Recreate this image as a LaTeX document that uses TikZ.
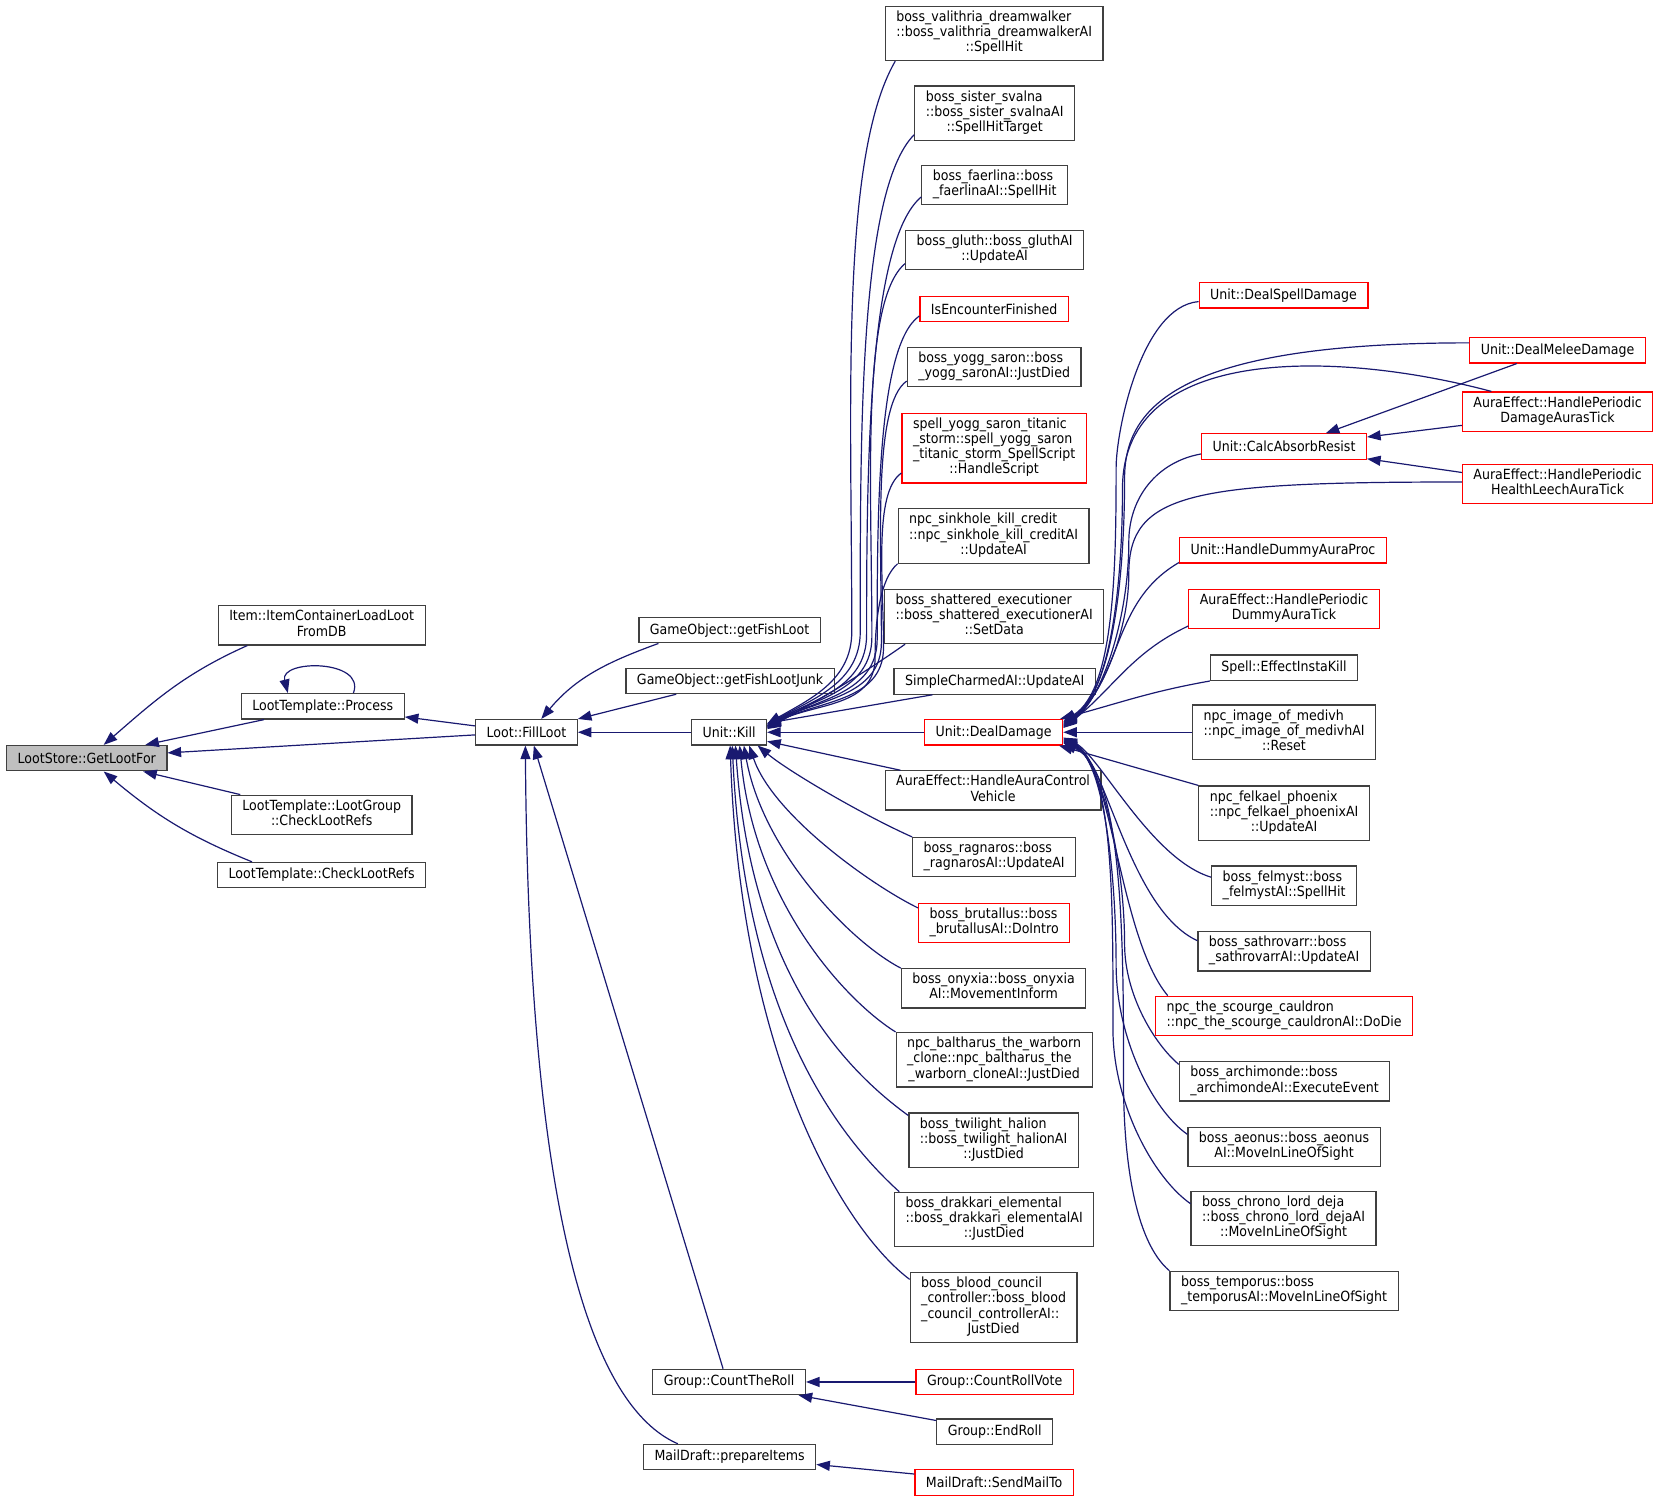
\documentclass[tikz,border=0pt]{standalone}
\usepackage{fontspec}
\setmainfont{DejaVu Sans}[FakeStretch=0.9]
\usetikzlibrary{arrows.meta,calc}
\definecolor{edgeblue}{HTML}{191970}
\definecolor{storegray}{HTML}{BFBFBF}
% left justified lines, last line centred
\newcommand{\mlab}[2]{\begin{tabular}{@{}l@{}}#1\\\multicolumn{1}{@{}c@{}}{#2}\end{tabular}}

\begin{document}
\begin{tikzpicture}[x=0.529pt,y=0.529pt,
    box/.style={draw=black!75,line width=0.6pt,inner xsep=5.5pt,inner ysep=2.2pt,
        minimum height=12.7pt,font=\fontsize{7}{7.6}\selectfont},
    redbox/.style={box,draw=red},
    call/.style={draw=edgeblue,line width=0.6pt,-{Triangle[length=6.8pt,width=5pt]}}]
\useasboundingbox (0,0) rectangle (1565,-1417.5);

% left part
\node [box,fill=storegray] (store) at (82,-716.5) {LootStore::GetLootFor};
\node [box] (itemdb)    at (304,-591)   {\mlab{Item::ItemContainerLoadLoot}{FromDB}};
\node [box] (process)   at (305,-667.5) {LootTemplate::Process};
\node [box] (lootgroup) at (304,-770)   {\mlab{LootTemplate::LootGroup}{::CheckLootRefs}};
\node [box] (checkrefs) at (304,-827)   {LootTemplate::CheckLootRefs};
\node [box] (fillloot)  at (497.5,-692) {Loot::FillLoot};
\node [box] (fishloot)  at (689.5,-595.5) {GameObject::getFishLoot};
\node [box] (fishjunk)  at (690,-643.5) {GameObject::getFishLootJunk};
\node [box] (kill)      at (689,-692)   {Unit::Kill};
\node [box] (countroll) at (689,-1306)  {Group::CountTheRoll};
\node [box] (prepare)   at (689.5,-1377) {MailDraft::prepareItems};

% middle column
\node [box] (valithria) at (939.5,-31.5) {\mlab{boss\_valithria\_dreamwalker\\::boss\_valithria\_dreamwalkerAI}{::SpellHit}};
\node [box] (svalna)    at (940,-107)   {\mlab{boss\_sister\_svalna\\::boss\_sister\_svalnaAI}{::SpellHitTarget}};
\node [box] (faerlina)  at (940,-175)   {\mlab{boss\_faerlina::boss}{\_faerlinaAI::SpellHit}};
\node [box] (gluth)     at (940,-236)   {\mlab{boss\_gluth::boss\_gluthAI}{::UpdateAI}};
\node [redbox] (encounter) at (939.5,-292) {IsEncounterFinished};
\node [box] (yogg)      at (939.5,-347) {\mlab{boss\_yogg\_saron::boss}{\_yogg\_saronAI::JustDied}};
\node [redbox] (titanic) at (939.5,-423.5) {\mlab{spell\_yogg\_saron\_titanic\\\_storm::spell\_yogg\_saron\\\_titanic\_storm\_SpellScript}{::HandleScript}};
\node [box] (sinkhole)  at (939,-506.5) {\mlab{npc\_sinkhole\_kill\_credit\\::npc\_sinkhole\_kill\_creditAI}{::UpdateAI}};
\node [box] (shattered) at (939.5,-582.5) {\mlab{boss\_shattered\_executioner\\::boss\_shattered\_executionerAI}{::SetData}};
\node [box] (charmed)   at (940,-644)   {SimpleCharmedAI::UpdateAI};
\node [redbox] (dealdmg) at (939,-692)  {Unit::DealDamage};
\node [box] (vehicle)   at (938.5,-747) {\mlab{AuraEffect::HandleAuraControl}{Vehicle}};
\node [box] (ragnaros)  at (939.5,-810) {\mlab{boss\_ragnaros::boss}{\_ragnarosAI::UpdateAI}};
\node [redbox] (brutallus) at (939.5,-872) {\mlab{boss\_brutallus::boss}{\_brutallusAI::DoIntro}};
\node [box] (onyxia)    at (939,-934)   {\mlab{boss\_onyxia::boss\_onyxia}{AI::MovementInform}};
\node [box] (baltharus) at (939.5,-1001.5) {\mlab{npc\_baltharus\_the\_warborn\\\_clone::npc\_baltharus\_the}{\_warborn\_cloneAI::JustDied}};
\node [box] (halion)    at (939,-1077.5) {\mlab{boss\_twilight\_halion\\::boss\_twilight\_halionAI}{::JustDied}};
\node [box] (drakkari)  at (939.5,-1152.5) {\mlab{boss\_drakkari\_elemental\\::boss\_drakkari\_elementalAI}{::JustDied}};
\node [box] (council)   at (939,-1235.5) {\mlab{boss\_blood\_council\\\_controller::boss\_blood\\\_council\_controllerAI::}{JustDied}};
\node [redbox] (rollvote) at (940,-1306) {Group::CountRollVote};
\node [box] (endroll)   at (940,-1353)  {Group::EndRoll};
\node [redbox] (sendmail) at (939.5,-1401) {MailDraft::SendMailTo};

% callers of Unit::DealDamage
\node [redbox] (spelldmg)  at (1213,-279)    {Unit::DealSpellDamage};
\node [redbox] (absorb)    at (1213.5,-422)  {Unit::CalcAbsorbResist};
\node [redbox] (dummyproc) at (1212.5,-520)  {Unit::HandleDummyAuraProc};
\node [redbox] (dummytick) at (1213.5,-575.5) {\mlab{AuraEffect::HandlePeriodic}{DummyAuraTick}};
\node [box] (instakill)  at (1213.5,-631)  {Spell::EffectInstaKill};
\node [box] (medivh)     at (1213.5,-692)  {\mlab{npc\_image\_of\_medivh\\::npc\_image\_of\_medivhAI}{::Reset}};
\node [box] (felkael)    at (1213.5,-768.5) {\mlab{npc\_felkael\_phoenix\\::npc\_felkael\_phoenixAI}{::UpdateAI}};
\node [box] (felmyst)    at (1213.5,-837)  {\mlab{boss\_felmyst::boss}{\_felmystAI::SpellHit}};
\node [box] (sathrovarr) at (1213.5,-899)  {\mlab{boss\_sathrovarr::boss}{\_sathrovarrAI::UpdateAI}};
\node [redbox] (cauldron) at (1213.5,-960) {\mlab{npc\_the\_scourge\_cauldron}{::npc\_the\_scourge\_cauldronAI::DoDie}};
\node [box] (archimonde) at (1214,-1022)   {\mlab{boss\_archimonde::boss}{\_archimondeAI::ExecuteEvent}};
\node [box] (aeonus)     at (1213.5,-1084) {\mlab{boss\_aeonus::boss\_aeonus}{AI::MoveInLineOfSight}};
\node [box] (chrono)     at (1213,-1151.5) {\mlab{boss\_chrono\_lord\_deja\\::boss\_chrono\_lord\_dejaAI}{::MoveInLineOfSight}};
\node [box] (temporus)   at (1213.5,-1220) {\mlab{boss\_temporus::boss}{\_temporusAI::MoveInLineOfSight}};

% right column
\node [redbox] (melee)       at (1472,-331)   {Unit::DealMeleeDamage};
\node [redbox] (damageticks) at (1472,-389)   {\mlab{AuraEffect::HandlePeriodic}{DamageAurasTick}};
\node [redbox] (leechtick)   at (1472,-457.5) {\mlab{AuraEffect::HandlePeriodic}{HealthLeechAuraTick}};

% LootStore::GetLootFor
\draw [call] ($(itemdb.south west)+(28,0)$) to [out=204, in=41] ($(store.north)+(16,0)$);
\draw [call] ($(process.south west)+(22,0)$) -- ($(store.north east)+(-21,0)$);
\draw [call] ($(fillloot.west)+(0,-2.5)$) -- ($(store.east)+(0,5)$);
\draw [call] ($(lootgroup.north west)+(9,0)$) -- ($(store.south east)+(-23,0)$);
\draw [call] ($(checkrefs.north west)+(33,0)$) to [out=158, in=-40] ($(store.south)+(16,0)$);
% LootTemplate::Process
\draw [call] ($(process.north)+(29,0)$) .. controls +(12,32) and +(-8,32) .. ($(process.north)+(-33,0)$);
\draw [call] ($(fillloot.west)+(0,6)$) -- ($(process.east)+(0,-10)$);
% Loot::FillLoot
\draw [call] ($(fishloot.south west)+(19,0)$) to [out=200, in=50] ($(fillloot.north)+(14,0)$);
\draw [call] ($(fishjunk.south west)+(48,0)$) -- (fillloot.north east);
\draw [call] (kill.west) -- (fillloot.east);
\draw [call] ($(countroll.north west)+(67,0)$) -- ($(fillloot.south)+(7,0)$);
\draw [call] ($(prepare.north west)+(33,0)$) .. controls +(-81,35) and +(3,-446) .. ($(fillloot.south)+(-1,0)$);
% Group::CountTheRoll, MailDraft::prepareItems
\draw [call] (rollvote.west) -- (countroll.east);
\draw [call] ($(endroll.north west)+(0,-2)$) -- ($(countroll.south east)+(-7,0)$);
\draw [call] ($(sendmail.west)+(0,8)$) -- ($(prepare.east)+(0,-7)$);

% Unit::Kill, upper callers
\draw [call] ($(valithria.south west)+(10,0)$) to [out=240, in=90, out looseness=0.5] ($(kill.east)+(80,95)$)
    to [out=-90, in=30] ($(kill.east)+(0,8)$);
\draw [call] ($(svalna.south west)+(0,6)$) to [out=225, in=90, out looseness=0.4] ($(kill.east)+(88,95)$)
    to [out=-90, in=30] ($(kill.east)+(0,7)$);
\draw [call] ($(faerlina.south west)+(0,8)$) to [out=220, in=90, out looseness=0.4] ($(kill.east)+(94,92)$)
    to [out=-90, in=30] ($(kill.east)+(0,6)$);
\draw [call] ($(gluth.south west)+(0,6)$) to [out=220, in=90, out looseness=0.4] ($(kill.east)+(99,90)$)
    to [out=-90, in=30] ($(kill.east)+(0,6)$);
\draw [call] ($(encounter.south west)+(0,6)$) to [out=215, in=90, out looseness=0.4] ($(kill.east)+(104,88)$)
    to [out=-90, in=30] ($(kill.east)+(0,5)$);
\draw [call] ($(yogg.south west)+(0,6)$) to [out=215, in=90, out looseness=0.4] ($(kill.east)+(108,85)$)
    to [out=-90, in=30] ($(kill.east)+(0,5)$);
\draw [call] ($(titanic.south west)+(0,10)$) to [out=215, in=90, out looseness=0.5] ($(kill.east)+(110,80)$)
    to [out=-90, in=30] ($(kill.east)+(0,4)$);
\draw [call] (sinkhole.south west) to [out=220, in=90, out looseness=0.6] ($(kill.east)+(102,70)$)
    to [out=-90, in=30] ($(kill.east)+(0,4)$);
\draw [call] ($(shattered.south west)+(20,0)$) to [out=215, in=30] ($(kill.east)+(0,3)$);
\draw [call] ($(charmed.south west)+(37,0)$) -- ($(kill.north east)+(0,-4)$);
\draw [call] (dealdmg.west) -- (kill.east);
% Unit::Kill, lower callers
\draw [call] ($(vehicle.north west)+(15,0)$) -- ($(kill.south east)+(0,4)$);
\draw [call] (ragnaros.north west) .. controls +(-45,20) and +(30,-25) .. ($(kill.south east)+(-9,0)$);
\draw [call] ($(brutallus.west)+(0,14)$) .. controls +(-45,22) and +(22,-65) .. ($(kill.south)+(19,0)$);
\draw [call] (onyxia.north west) .. controls +(-48,25) and +(18,-100) .. ($(kill.south)+(14,0)$);
\draw [call] (baltharus.north west) .. controls +(-45,28) and +(14,-150) .. ($(kill.south)+(10,0)$);
\draw [call] ($(halion.north west)+(0,-3)$) .. controls +(-55,40) and +(15,-220) .. ($(kill.south)+(6,0)$);
\draw [call] ($(drakkari.north west)+(5,0)$) .. controls +(-55,50) and +(12,-260) .. ($(kill.south)+(3,0)$);
\draw [call] ($(council.north west)+(0,-7)$) .. controls +(-60,45) and +(10,-300) .. ($(kill.south)+(1,0)$);

% Unit::DealDamage, upper callers
\draw [call] ($(spelldmg.west)+(0,-6)$) to [out=185, in=90, out looseness=0.8, in looseness=0.5] ($(dealdmg.east)+(50,250)$)
    to [out=-90, in=33, in looseness=0.6] ($(dealdmg.east)+(0,10)$);
\draw [call] ($(melee.west)+(0,7)$) to [out=180, in=90, out looseness=2, in looseness=0.5] ($(dealdmg.east)+(58,240)$)
    to [out=-90, in=33, in looseness=0.6] ($(dealdmg.east)+(0,9)$);
\draw [call] ($(damageticks.north west)+(28,0)$) to [out=165, in=90] ($(dealdmg.east)+(56,230)$)
    to [out=-90, in=33, in looseness=0.6] ($(dealdmg.east)+(0,8)$);
\draw [call] ($(absorb.west)+(0,-7)$) to [out=190, in=90] ($(dealdmg.east)+(62,180)$)
    to [out=-90, in=33, in looseness=0.6] ($(dealdmg.east)+(0,6)$);
\draw [call] ($(leechtick.west)+(0,2)$) to [out=180, in=90, out looseness=2, in looseness=0.6] ($(dealdmg.east)+(62,150)$)
    to [out=-90, in=33, in looseness=0.6] ($(dealdmg.east)+(0,7)$);
\draw [call] ($(dummyproc.south west)+(0,1)$) to [out=210, in=40] ($(dealdmg.east)+(0,5)$);
\draw [call] ($(dummytick.south west)+(0,3)$) to [out=205, in=38] ($(dealdmg.east)+(0,4)$);
\draw [call] (instakill.south west) to [out=190, in=15] ($(dealdmg.north east)+(-3,0)$);
\draw [call] (medivh.west) -- (dealdmg.east);
% Unit::DealDamage, lower callers
\draw [call] (felkael.north west) -- ($(dealdmg.south east)+(-4,0)$);
\draw [call] ($(felmyst.west)+(0,8)$) to [out=163, in=-25, out looseness=0.8, in looseness=0.5] ($(dealdmg.east)+(0,-5)$);
\draw [call] ($(sathrovarr.west)+(0,10)$) to [out=155, in=-25, out looseness=0.8, in looseness=0.5] ($(dealdmg.east)+(0,-6)$);
\draw [call] ($(cauldron.north west)+(12,0)$) to [out=130, in=-25, out looseness=0.7, in looseness=0.5] ($(dealdmg.east)+(0,-7)$);
\draw [call] ($(archimonde.north west)+(0,-3)$) to [out=140, in=-90, out looseness=0.6] ($(dealdmg.east)+(58,-200)$)
    to [out=90, in=-25, in looseness=0.5] ($(dealdmg.east)+(0,-8)$);
\draw [call] ($(aeonus.west)+(0,12)$) to [out=145, in=-90, out looseness=0.6] ($(dealdmg.east)+(50,-220)$)
    to [out=90, in=-25, in looseness=0.5] ($(dealdmg.east)+(0,-8)$);
\draw [call] ($(chrono.west)+(0,14)$) to [out=145, in=-90, out looseness=0.6] ($(dealdmg.east)+(47,-280)$)
    to [out=90, in=-25, in looseness=0.5] ($(dealdmg.east)+(0,-9)$);
\draw [call] (temporus.north west) to [out=140, in=-90, out looseness=0.6] ($(dealdmg.east)+(57,-330)$)
    to [out=90, in=-25, in looseness=0.5] ($(dealdmg.east)+(0,-10)$);

% Unit::CalcAbsorbResist
\draw [call] ($(melee.south west)+(45,0)$) -- ($(absorb.north east)+(-39,0)$);
\draw [call] ($(damageticks.west)+(0,-13)$) -- ($(absorb.east)+(0,9)$);
\draw [call] ($(leechtick.west)+(0,11)$) -- ($(absorb.south east)+(0,1)$);

\end{tikzpicture}
\end{document}
